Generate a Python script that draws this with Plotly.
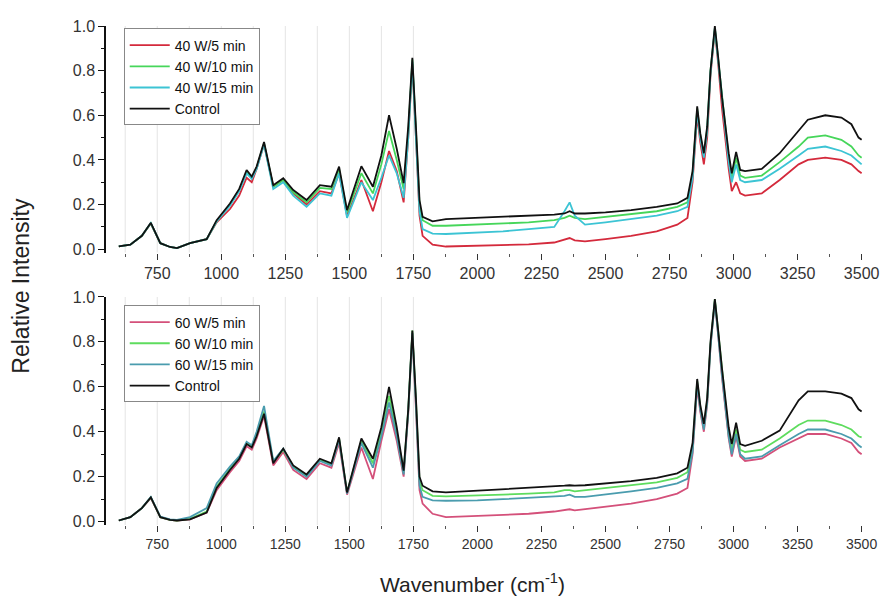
import plotly.graph_objects as go
from plotly.subplots import make_subplots

# ---------------- data ----------------
WN = [600, 645, 690, 725, 762, 800, 827, 878, 943, 982,
      1034, 1070, 1099, 1119, 1138, 1167, 1203, 1242, 1281, 1333,
      1385, 1430, 1460, 1491, 1547, 1592, 1625, 1655, 1685, 1712,
      1730, 1746, 1760, 1774, 1786, 1825, 1877, 2000, 2100, 2200,
      2300, 2340, 2360, 2380, 2420, 2500, 2600, 2700, 2780, 2820,
      2840, 2858, 2870, 2884, 2897, 2910, 2927, 2940, 2955, 2981,
      2993, 3010, 3026, 3045, 3110, 3180, 3254, 3290, 3358, 3421,
      3460, 3488, 3500]

# top panel (40 W)
W40_5 = [0.013, 0.02, 0.06, 0.115, 0.027, 0.01, 0.005, 0.027, 0.045, 0.12,
         0.18, 0.24, 0.32, 0.30, 0.36, 0.47, 0.28, 0.31, 0.25, 0.2,
         0.26, 0.25, 0.34, 0.15, 0.31, 0.17, 0.30, 0.44, 0.35, 0.21,
         0.5, 0.83, 0.5, 0.15, 0.06, 0.02, 0.012, 0.015, 0.018, 0.022,
         0.03, 0.045, 0.05, 0.04, 0.035, 0.045, 0.06, 0.08, 0.11, 0.14,
         0.3, 0.6, 0.48, 0.38, 0.5, 0.78, 0.98, 0.83, 0.63, 0.36,
         0.26, 0.3, 0.25, 0.24, 0.25, 0.31, 0.38, 0.40, 0.41, 0.40,
         0.38, 0.35, 0.34]
W40_10 = [0.013, 0.02, 0.06, 0.116, 0.027, 0.01, 0.005, 0.027, 0.045, 0.125,
          0.2, 0.265, 0.345, 0.32, 0.365, 0.475, 0.28, 0.31, 0.255, 0.21,
          0.275, 0.27, 0.36, 0.165, 0.34, 0.25, 0.38, 0.53, 0.40, 0.27,
          0.52, 0.85, 0.53, 0.2, 0.13, 0.105, 0.105, 0.11, 0.115, 0.12,
          0.13, 0.14, 0.15, 0.14, 0.135, 0.145, 0.155, 0.17, 0.19, 0.21,
          0.34, 0.63, 0.51, 0.42, 0.54, 0.8, 0.99, 0.85, 0.67, 0.41,
          0.32, 0.41, 0.33, 0.32, 0.33, 0.39, 0.46, 0.50, 0.51, 0.49,
          0.46, 0.42, 0.41]
W40_15 = [0.013, 0.02, 0.06, 0.117, 0.027, 0.01, 0.005, 0.027, 0.045, 0.125,
          0.195, 0.26, 0.34, 0.315, 0.36, 0.47, 0.27, 0.30, 0.24, 0.19,
          0.25, 0.24, 0.34, 0.14, 0.30, 0.22, 0.32, 0.42, 0.34, 0.23,
          0.5, 0.84, 0.5, 0.17, 0.09, 0.07, 0.068, 0.075, 0.08, 0.09,
          0.1, 0.17, 0.21, 0.15, 0.11, 0.12, 0.135, 0.15, 0.17, 0.19,
          0.32, 0.62, 0.5, 0.41, 0.53, 0.79, 0.99, 0.84, 0.66, 0.39,
          0.3, 0.38, 0.31, 0.30, 0.31, 0.36, 0.42, 0.45, 0.46, 0.44,
          0.42, 0.39, 0.38]
CTRL_TOP = [0.013, 0.02, 0.06, 0.118, 0.027, 0.01, 0.005, 0.027, 0.045, 0.13,
            0.205, 0.27, 0.355, 0.325, 0.37, 0.48, 0.287, 0.318, 0.265, 0.22,
            0.287, 0.28, 0.37, 0.175, 0.372, 0.28, 0.42, 0.60, 0.45, 0.296,
            0.55, 0.857, 0.55, 0.22, 0.145, 0.125, 0.135, 0.14, 0.145, 0.15,
            0.155, 0.16, 0.17, 0.16, 0.16, 0.165, 0.175, 0.19, 0.205, 0.23,
            0.35, 0.64, 0.52, 0.43, 0.55, 0.8, 1.0, 0.86, 0.68, 0.43,
            0.34, 0.436, 0.355, 0.35, 0.36, 0.43, 0.53, 0.58, 0.60, 0.59,
            0.56, 0.50, 0.49]

# bottom panel (60 W)
W60_5 = [0.005, 0.02, 0.06, 0.105, 0.02, 0.008, 0.005, 0.01, 0.04, 0.14,
         0.22, 0.27, 0.335, 0.32, 0.37, 0.47, 0.25, 0.31, 0.23, 0.19,
         0.26, 0.24, 0.35, 0.12, 0.33, 0.19, 0.36, 0.50, 0.36, 0.2,
         0.48, 0.84, 0.5, 0.14, 0.08, 0.035, 0.02, 0.025, 0.03, 0.035,
         0.045, 0.05, 0.055, 0.05, 0.055, 0.065, 0.08, 0.1, 0.125, 0.15,
         0.3, 0.6, 0.49, 0.4, 0.52, 0.78, 0.98, 0.83, 0.64, 0.37,
         0.29, 0.38, 0.29, 0.27, 0.28, 0.33, 0.37, 0.39, 0.39, 0.37,
         0.35, 0.31, 0.30]
W60_10 = [0.005, 0.02, 0.06, 0.108, 0.02, 0.008, 0.005, 0.012, 0.045, 0.155,
          0.235, 0.285, 0.35, 0.335, 0.385, 0.49, 0.265, 0.32, 0.245, 0.205,
          0.275, 0.255, 0.37, 0.13, 0.36, 0.26, 0.4, 0.56, 0.4, 0.22,
          0.5, 0.85, 0.54, 0.18, 0.14, 0.115, 0.112, 0.115, 0.12, 0.125,
          0.13, 0.14, 0.14, 0.135, 0.14, 0.15, 0.16, 0.175, 0.195, 0.22,
          0.33, 0.625, 0.51, 0.42, 0.54, 0.79, 0.99, 0.84, 0.66, 0.39,
          0.32, 0.41, 0.32, 0.31, 0.32, 0.37, 0.43, 0.45, 0.45, 0.43,
          0.41, 0.38, 0.375]
W60_15 = [0.005, 0.02, 0.06, 0.11, 0.022, 0.01, 0.008, 0.02, 0.06, 0.17,
          0.245, 0.29, 0.355, 0.34, 0.4, 0.515, 0.27, 0.325, 0.24, 0.2,
          0.27, 0.25, 0.365, 0.125, 0.35, 0.24, 0.38, 0.53, 0.38, 0.21,
          0.49, 0.84, 0.52, 0.16, 0.11, 0.095, 0.093, 0.095, 0.1, 0.105,
          0.11, 0.115, 0.12, 0.11, 0.11, 0.12, 0.135, 0.15, 0.17, 0.19,
          0.31, 0.615, 0.5, 0.41, 0.53, 0.78, 0.98, 0.83, 0.65, 0.38,
          0.3, 0.39, 0.3, 0.28, 0.29, 0.34, 0.39, 0.41, 0.41, 0.39,
          0.37, 0.34, 0.33]
CTRL_BOT = [0.005, 0.02, 0.06, 0.108, 0.02, 0.008, 0.005, 0.01, 0.04, 0.15,
            0.23, 0.28, 0.345, 0.33, 0.38, 0.48, 0.26, 0.325, 0.25, 0.21,
            0.28, 0.26, 0.375, 0.13, 0.37, 0.28, 0.42, 0.60, 0.42, 0.227,
            0.5, 0.85, 0.55, 0.2, 0.16, 0.135, 0.13, 0.138, 0.142, 0.148,
            0.155, 0.16, 0.162, 0.16, 0.162, 0.17, 0.18, 0.195, 0.215, 0.24,
            0.35, 0.635, 0.52, 0.435, 0.55, 0.8, 0.99, 0.85, 0.68, 0.42,
            0.345, 0.44, 0.345, 0.337, 0.36, 0.405, 0.54, 0.58, 0.58, 0.57,
            0.55, 0.50, 0.49]

TOP_NAMES = ["40 W/5 min", "40 W/10 min", "40 W/15 min", "Control"]
BOT_NAMES = ["60 W/5 min", "60 W/10 min", "60 W/15 min", "Control"]
TOP_COLORS = ["#d42a3c", "#46d65a", "#3cc4d4", "#111111"]
BOT_COLORS = ["#d4507a", "#5edc5e", "#4a9cae", "#111111"]
GRID_X = [625, 750, 875, 1000, 1125, 1250, 1375, 1500, 1625, 1750]

FONT = "Arial, Liberation Sans, sans-serif"

fig = make_subplots(rows=2, cols=1, vertical_spacing=0.0)

for ys, name, col in zip([W40_5, W40_10, W40_15, CTRL_TOP], TOP_NAMES, TOP_COLORS):
    fig.add_trace(go.Scatter(x=WN, y=ys, mode="lines", name=name,
                             line=dict(color=col, width=1.8), legend="legend"),
                  row=1, col=1)
for ys, name, col in zip([W60_5, W60_10, W60_15, CTRL_BOT], BOT_NAMES, BOT_COLORS):
    fig.add_trace(go.Scatter(x=WN, y=ys, mode="lines", name=name,
                             line=dict(color=col, width=1.8), legend="legend2"),
                  row=2, col=1)

for g in GRID_X:
    for yref, xref in (("y domain", "x"), ("y2 domain", "x2")):
        fig.add_shape(type="line", x0=g, x1=g, y0=0, y1=1, xref=xref, yref=yref,
                      line=dict(color="#e4e4e4", width=1), layer="below")

xcommon = dict(range=[550, 3560], tick0=0, dtick=250, ticks="outside", ticklen=6,
               tickcolor="#333", showline=False, showgrid=False, zeroline=False,
               minor=dict(dtick=125, ticks="outside", ticklen=3, tickcolor="#555"))
ycommon = dict(range=[-0.015, 1.0], dtick=0.2, tickformat=".1f", ticks="outside",
               ticklen=6, tickcolor="#111", showline=True, linecolor="#111",
               linewidth=1.5, showgrid=False, zeroline=False,
               tickfont=dict(size=16, color="#333"),
               minor=dict(dtick=0.1, ticks="outside", ticklen=3, tickcolor="#111"))

legend_common = dict(xanchor="left", yanchor="top", bgcolor="white",
                     bordercolor="#888", borderwidth=1, itemwidth=40,
                     font=dict(size=14, color="#111"), tracegroupgap=0)

fig.update_layout(
    width=887, height=605,
    margin=dict(l=106, r=8, t=26, b=80),
    paper_bgcolor="white", plot_bgcolor="white",
    font=dict(family=FONT, color="#222"),
    xaxis=dict(domain=[0, 1], anchor="y", tickfont=dict(size=16, color="#333"), **xcommon),
    xaxis2=dict(domain=[0, 1], anchor="y2", tickfont=dict(size=14, color="#333"), **xcommon),
    yaxis=dict(domain=[0.546, 1.0], anchor="x", **ycommon),
    yaxis2=dict(domain=[0.0, 0.457], anchor="x2", **ycommon),
    legend=dict(x=0.023, y=0.995, **legend_common),
    legend2=dict(x=0.023, y=0.44, **legend_common),
    annotations=[
        dict(text="Relative Intensity", xref="paper", yref="paper", x=-0.11, y=0.48,
             xanchor="center", yanchor="middle", textangle=-90, showarrow=False,
             font=dict(size=23, color="#222")),
        dict(text="Wavenumber (cm<sup>-1</sup>)", xref="paper", yref="paper",
             x=0.475, y=-0.117, xanchor="center", yanchor="middle", showarrow=False,
             font=dict(size=21, color="#222")),
    ],
)

fig.write_html("out.html")
